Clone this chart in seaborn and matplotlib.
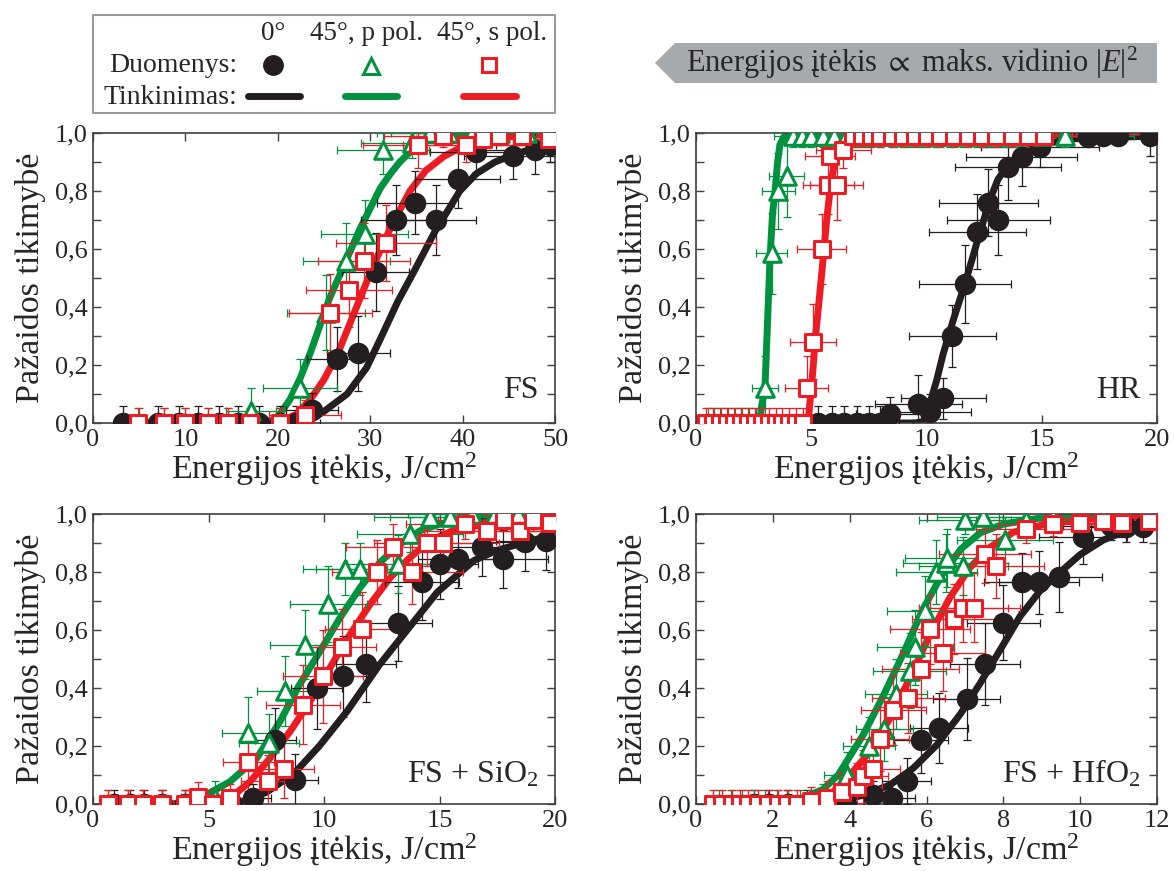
import numpy as np
import pandas as pd
import matplotlib.pyplot as plt
import matplotlib.patches as patches
from matplotlib.ticker import FuncFormatter, MultipleLocator
import seaborn as sns

#%% data (x = fluence J/cm2, y = damage probability)

# FS
fs_black_x = [3.2, 7.0, 9.3, 11.4, 13.6, 15.7, 18.0, 20.2, 22.0, 23.7, 26.4, 28.7, 30.6, 32.8, 34.9, 37.1, 39.5, 41.5, 45.5, 47.8, 49.5]
fs_black_y = [0, 0, 0, 0, 0, 0, 0, 0, 0, 0.045, 0.22, 0.24, 0.52, 0.70, 0.76, 0.70, 0.84, 0.935, 0.92, 0.94, 0.96]
fs_black_xerr = [0.4, 0.8, 1.1, 1.4, 1.6, 1.9, 2.2, 2.4, 2.6, 2.8, 3.2, 3.4, 3.6, 3.8, 4.2, 4.4, 4.6, 5.0, 5.4, 5.7, 5.9]
fs_black_yerr = [0.06, 0.06, 0.06, 0.06, 0.06, 0.06, 0.06, 0.06, 0.06, 0.06, 0.11, 0.13, 0.135, 0.12, 0.11, 0.12, 0.10, 0.07, 0.08, 0.08, 0.06]
fs_green_x = [5.0, 7.7, 10.0, 12.4, 14.6, 17.1, 20.2, 22.4, 25.2, 27.4, 29.4, 31.4, 34.5, 36.5, 38.5, 41.0, 44.0, 47.0, 49.5]
fs_green_y = [0, 0, 0, 0, 0, 0.04, 0, 0.12, 0.38, 0.56, 0.65, 0.94, 0.965, 1.0, 1.0, 1.0, 1.0, 1.0, 0.99]
fs_green_xerr = [0.8, 1.2, 1.6, 2.0, 2.3, 2.7, 3.2, 4.0, 4.2, 4.7, 4.7, 5.0, 5.5, 5.8, 6.2, 6.6, 7.0, 7.5, 7.9]
fs_green_yerr = [0.05, 0.05, 0.05, 0.05, 0.05, 0.08, 0.05, 0.10, 0.13, 0.13, 0.12, 0.08, 0.05, 0.03, 0.03, 0.03, 0.03, 0.03, 0.03]
fs_red_x = [4.9, 7.7, 10.0, 12.4, 14.6, 17.0, 20.2, 22.9, 25.7, 27.7, 29.3, 31.7, 35.2, 37.9, 40.4, 42.2, 43.9, 46.4, 49.3]
fs_red_y = [0, 0, 0, 0, 0, 0, 0, 0.028, 0.38, 0.46, 0.56, 0.62, 0.96, 0.99, 0.96, 0.98, 0.99, 0.99, 0.98]
fs_red_xerr = [0.8, 1.3, 1.7, 2.1, 2.5, 2.9, 3.4, 3.9, 4.5, 4.7, 5.0, 5.4, 6.0, 6.4, 6.9, 7.2, 7.5, 7.9, 8.4]
fs_red_yerr = [0.05, 0.05, 0.05, 0.05, 0.05, 0.05, 0.05, 0.05, 0.135, 0.13, 0.13, 0.13, 0.08, 0.04, 0.06, 0.04, 0.03, 0.03, 0.04]
# fit curves
fs_black_fx = [3, 22, 23.5, 25, 27.5, 29.6, 31.1, 33, 34.7, 37, 39.7, 41.5, 43.5, 45.5, 47.5, 50]
fs_black_fy = [0, 0, 0.01, 0.04, 0.10, 0.19, 0.29, 0.42, 0.52, 0.66, 0.80, 0.86, 0.90, 0.925, 0.945, 0.965]
fs_green_fx = [3, 18, 19.5, 20.2, 21.3, 22.4, 23.5, 24.6, 25.6, 26.7, 27.8, 28.9, 30.0, 31.1, 32.2, 33.2, 34.5, 35.7, 37.5, 40, 45, 50]
fs_green_fy = [0, 0, 0.01, 0.03, 0.08, 0.153, 0.24, 0.34, 0.43, 0.51, 0.59, 0.67, 0.74, 0.81, 0.86, 0.90, 0.94, 0.97, 0.985, 0.995, 1.0, 1.0]
fs_red_fx = [3, 19, 20.5, 22, 23.5, 25, 26.5, 28.4, 30.3, 32.3, 34.3, 36, 38, 40.4, 43, 46, 50]
fs_red_fy = [0, 0, 0.008, 0.03, 0.08, 0.15, 0.24, 0.39, 0.54, 0.68, 0.80, 0.87, 0.92, 0.96, 0.98, 0.99, 0.995]

# HR
hr_black_x = [5.3, 5.9, 6.4, 7.0, 7.5, 8.0, 8.42, 9.65, 10.15, 10.73, 11.12, 11.67, 12.2, 12.68, 13.12, 13.55, 14.13, 14.92, 17.0, 17.67, 18.32, 19.7]
hr_black_y = [0, 0, 0, 0, 0, 0, 0.03, 0.065, 0.039, 0.085, 0.30, 0.48, 0.66, 0.76, 0.70, 0.884, 0.918, 0.953, 0.987, 0.99, 0.99, 0.99]
hr_black_xerr = [0.9, 1.0, 1.1, 1.2, 1.3, 1.4, 1.5, 1.9, 1.8, 1.85, 1.9, 2.0, 2.1, 2.15, 2.25, 2.3, 2.4, 2.55, 2.9, 3.0, 3.1, 3.3]
hr_black_yerr = [0.06, 0.06, 0.06, 0.06, 0.06, 0.06, 0.06, 0.1, 0.06, 0.07, 0.106, 0.135, 0.13, 0.115, 0.12, 0.115, 0.1, 0.07, 0.03, 0.03, 0.03, 0.07]
hr_green_x = [0.5, 0.8, 1.1, 1.4, 1.7, 2.0, 2.3, 2.6, 2.85, 2.99, 3.28, 3.57, 3.93, 4.2, 4.6, 5.0, 5.5, 6.0, 6.5, 7.0, 7.5, 8.0, 8.6, 9.2, 9.8, 10.4, 11.0, 11.6, 12.2, 12.8, 13.4, 14.0, 15.0, 16.0]
hr_green_y = [0, 0, 0, 0, 0, 0, 0, 0, 0, 0.12, 0.585, 0.80, 0.85, 0.99, 0.99, 0.99, 0.99, 0.99, 0.99, 0.99, 0.99, 0.99, 0.99, 0.99, 0.99, 0.99, 0.99, 0.99, 0.99, 0.99, 0.99, 0.99, 0.99, 0.99]
hr_green_xerr = [0.1, 0.15, 0.2, 0.27, 0.32, 0.38, 0.44, 0.5, 0.54, 0.58, 0.67, 0.72, 0.75, 0.8, 0.87, 0.95, 1.05, 1.15, 1.25, 1.33, 1.43, 1.52, 1.63, 1.75, 1.86, 1.98, 2.1, 2.2, 2.3, 2.4, 2.55, 2.65, 2.85, 3.0]
hr_green_yerr = [0.05, 0.05, 0.05, 0.05, 0.05, 0.05, 0.05, 0.05, 0.05, 0.11, 0.14, 0.13, 0.14, 0.04, 0.04, 0.04, 0.04, 0.04, 0.04, 0.04, 0.04, 0.04, 0.04, 0.04, 0.04, 0.04, 0.04, 0.04, 0.04, 0.04, 0.04, 0.04, 0.04, 0.04]
hr_red_x = [0.45, 0.75, 1.05, 1.35, 1.65, 1.95, 2.25, 2.55, 2.85, 3.15, 3.45, 3.75, 4.05, 4.35, 4.65, 4.8, 5.09, 5.45, 5.74, 6.1, 5.81, 6.39, 6.8, 7.2, 7.6, 8.0, 8.5, 9.0, 9.5, 10.0, 10.6, 11.2, 11.8, 12.4, 13.0, 13.7, 14.4, 15.1]
hr_red_y = [0, 0, 0, 0, 0, 0, 0, 0, 0, 0, 0, 0, 0, 0, 0, 0.12, 0.28, 0.60, 0.82, 0.82, 0.92, 0.94, 0.99, 0.99, 0.99, 0.99, 0.99, 0.99, 0.99, 0.99, 0.99, 0.99, 0.99, 0.99, 0.99, 0.99, 0.99, 0.99]
hr_red_xerr = [0.09, 0.14, 0.2, 0.26, 0.31, 0.37, 0.43, 0.48, 0.54, 0.6, 0.66, 0.71, 0.77, 0.83, 0.88, 0.94, 1.0, 1.07, 1.1, 1.15, 1.1, 1.2, 1.3, 1.37, 1.44, 1.52, 1.6, 1.7, 1.8, 1.9, 2.0, 2.1, 2.25, 2.35, 2.45, 2.6, 2.7, 2.85]
hr_red_yerr = [0.05, 0.05, 0.05, 0.05, 0.05, 0.05, 0.05, 0.05, 0.05, 0.05, 0.05, 0.05, 0.05, 0.05, 0.05, 0.11, 0.13, 0.12, 0.1, 0.12, 0.08, 0.06, 0.04, 0.04, 0.04, 0.04, 0.04, 0.04, 0.04, 0.04, 0.04, 0.04, 0.04, 0.04, 0.04, 0.04, 0.04, 0.04]
hr_black_fx = [5, 9.5, 9.86, 10.15, 10.45, 10.73, 11.16, 11.67, 12.18, 12.75, 13.1, 13.48, 14.2, 14.92, 16.37, 20]
hr_black_fy = [0, 0, 0.005, 0.068, 0.15, 0.24, 0.355, 0.48, 0.62, 0.77, 0.84, 0.884, 0.936, 0.96, 0.98, 0.99]
hr_green_fx = [0.5, 2.75, 2.85, 2.99, 3.1, 3.21, 3.32, 3.43, 3.54, 3.64, 3.8, 4.0, 4.5, 20]
hr_green_fy = [0, 0, 0.06, 0.12, 0.34, 0.567, 0.72, 0.80, 0.9, 0.96, 0.985, 0.995, 1.0, 1.0]
hr_red_fx = [0.5, 4.8, 4.87, 4.98, 5.09, 5.16, 5.35, 5.52, 5.67, 5.81, 5.95, 6.1, 6.3, 6.5, 7, 20]
hr_red_fy = [0, 0, 0.01, 0.1, 0.2, 0.28, 0.43, 0.57, 0.7, 0.80, 0.87, 0.92, 0.96, 0.98, 0.99, 1.0]

# FS + SiO2
si_black_x = [0.9, 1.6, 2.2, 3.0, 4.0, 4.6, 5.3, 6.0, 6.94, 7.9, 8.74, 9.68, 10.84, 11.82, 13.22, 14.23, 15.0, 15.8, 16.83, 17.76, 18.7, 19.6]
si_black_y = [0, 0, 0, 0, 0, 0, 0, 0, 0.02, 0.22, 0.083, 0.40, 0.44, 0.483, 0.623, 0.764, 0.827, 0.845, 0.885, 0.845, 0.902, 0.908]
si_black_xerr = [0.1, 0.18, 0.25, 0.33, 0.44, 0.5, 0.58, 0.66, 0.76, 0.87, 1.0, 1.1, 1.2, 1.3, 1.45, 1.6, 1.65, 1.75, 1.85, 1.95, 2.05, 2.15]
si_black_yerr = [0.05, 0.05, 0.05, 0.05, 0.05, 0.05, 0.05, 0.05, 0.05, 0.11, 0.09, 0.14, 0.14, 0.13, 0.13, 0.13, 0.12, 0.1, 0.1, 0.1, 0.1, 0.1]
si_green_x = [0.66, 1.53, 2.18, 2.97, 3.98, 4.56, 5.3, 6.72, 7.63, 8.31, 9.18, 10.19, 10.91, 11.56, 13.2, 13.72, 14.6, 15.45, 16.4, 17.4, 18.4, 19.4]
si_green_y = [0, 0, 0, 0, 0, 0, 0.02, 0.245, 0.21, 0.39, 0.55, 0.69, 0.81, 0.81, 0.826, 0.93, 0.99, 0.99, 1.0, 1.0, 1.0, 1.0]
si_green_xerr = [0.11, 0.26, 0.37, 0.5, 0.68, 0.78, 0.9, 1.15, 1.3, 1.2, 1.5, 1.66, 1.8, 1.9, 2.2, 2.3, 2.45, 2.6, 2.75, 2.9, 3.1, 3.25]
si_green_yerr = [0.05, 0.05, 0.05, 0.05, 0.05, 0.05, 0.06, 0.124, 0.1, 0.12, 0.12, 0.13, 0.09, 0.09, 0.1, 0.06, 0.03, 0.03, 0.03, 0.03, 0.03, 0.03]
si_red_x = [0.66, 1.53, 2.18, 2.97, 3.98, 4.56, 5.21, 5.93, 6.72, 7.59, 8.27, 9.08, 9.97, 10.77, 11.63, 12.31, 13.0, 13.8, 14.45, 15.17, 16.1, 17.04, 17.8, 18.5, 19.06, 19.8]
si_red_y = [0, 0, 0, 0, 0, 0.025, 0, 0.02, 0.144, 0.08, 0.121, 0.343, 0.44, 0.541, 0.602, 0.80, 0.885, 0.80, 0.90, 0.90, 0.965, 0.94, 0.98, 0.94, 0.98, 0.97]
si_red_xerr = [0.1, 0.25, 0.35, 0.48, 0.64, 0.73, 0.83, 0.95, 1.1, 1.2, 1.3, 1.6, 1.73, 1.5, 1.6, 1.95, 2.05, 2.2, 2.3, 2.4, 2.55, 2.7, 2.85, 2.95, 3.05, 3.15]
si_red_yerr = [0.05, 0.05, 0.05, 0.05, 0.05, 0.05, 0.05, 0.05, 0.1, 0.09, 0.1, 0.135, 0.16, 0.13, 0.13, 0.11, 0.08, 0.11, 0.08, 0.08, 0.05, 0.06, 0.04, 0.06, 0.04, 0.04]
si_black_fx = [0.5, 5.5, 6.5, 7.5, 8.7, 9.8, 11.0, 12.4, 13.6, 14.9, 16.5, 17.5, 18.6, 20]
si_black_fy = [0, 0, 0.01, 0.04, 0.105, 0.2, 0.32, 0.48, 0.6, 0.73, 0.84, 0.875, 0.90, 0.93]
si_green_fx = [0.5, 3.5, 4.2, 4.85, 5.93, 7.09, 8.1, 8.9, 9.83, 10.7, 11.56, 12.42, 13.29, 14.15, 15.0, 16.5, 18, 20]
si_green_fy = [0, 0, 0.01, 0.03, 0.077, 0.158, 0.285, 0.406, 0.527, 0.643, 0.746, 0.833, 0.896, 0.942, 0.965, 0.985, 0.993, 0.998]
si_red_fx = [0.5, 4.0, 5.0, 5.93, 6.8, 7.66, 8.53, 9.4, 10.26, 11.13, 12.0, 12.86, 13.72, 14.59, 15.5, 17.2, 20]
si_red_fy = [0, 0, 0.008, 0.02, 0.077, 0.158, 0.25, 0.354, 0.47, 0.585, 0.689, 0.78, 0.85, 0.908, 0.94, 0.97, 0.985]

# FS + HfO2
hf_black_x = [1.5, 1.9, 2.4, 2.9, 3.4, 3.9, 4.61, 5.09, 5.48, 5.85, 6.33, 7.05, 7.52, 8.0, 8.49, 8.93, 9.46, 10.08, 10.8, 11.2, 11.64]
hf_black_y = [0, 0, 0, 0, 0, 0, 0.03, 0.022, 0.08, 0.221, 0.262, 0.362, 0.483, 0.625, 0.764, 0.764, 0.783, 0.919, 0.96, 0.955, 0.955]
hf_black_xerr = [0.18, 0.23, 0.29, 0.35, 0.41, 0.47, 0.55, 0.6, 0.65, 0.7, 0.76, 0.87, 0.91, 0.95, 1.0, 1.05, 1.1, 1.15, 1.25, 1.3, 1.35]
hf_black_yerr = [0.05, 0.05, 0.05, 0.05, 0.05, 0.05, 0.05, 0.05, 0.08, 0.115, 0.12, 0.14, 0.14, 0.13, 0.1, 0.11, 0.12, 0.09, 0.05, 0.05, 0.05]
hf_green_x = [0.6, 0.9, 1.2, 1.5, 1.8, 2.1, 2.4, 2.7, 3.0, 3.3, 3.92, 4.5, 4.9, 5.2, 5.57, 5.7, 5.96, 6.26, 6.5, 6.53, 6.96, 7.0, 7.48, 8.04, 8.6, 9.3]
hf_green_y = [0, 0, 0, 0, 0, 0, 0, 0, 0, 0.02, 0.10, 0.20, 0.26, 0.38, 0.46, 0.54, 0.665, 0.80, 0.83, 0.85, 0.82, 0.98, 0.99, 0.91, 0.98, 0.99]
hf_green_xerr = [0.09, 0.14, 0.18, 0.23, 0.27, 0.32, 0.36, 0.4, 0.45, 0.5, 0.6, 0.68, 0.74, 0.8, 0.95, 1.0, 1.0, 1.05, 1.1, 1.1, 1.15, 1.2, 1.2, 1.25, 1.3, 1.4]
hf_green_yerr = [0.05, 0.05, 0.05, 0.05, 0.05, 0.05, 0.05, 0.05, 0.05, 0.05, 0.08, 0.1, 0.11, 0.12, 0.13, 0.13, 0.12, 0.11, 0.1, 0.1, 0.1, 0.05, 0.03, 0.08, 0.04, 0.03]
hf_red_x = [0.45, 0.67, 0.93, 1.15, 1.36, 1.62, 1.88, 2.14, 2.36, 2.62, 3.0, 3.4, 3.8, 4.2, 4.36, 4.62, 4.79, 5.14, 5.53, 5.85, 6.09, 6.42, 6.72, 6.96, 7.24, 7.52, 7.8, 8.6, 9.3, 10.0, 10.6, 11.1, 11.8]
hf_red_y = [0, 0, 0, 0, 0, 0, 0, 0, 0, 0, 0.01, 0.02, 0.04, 0.06, 0.095, 0.12, 0.225, 0.325, 0.366, 0.464, 0.602, 0.521, 0.637, 0.677, 0.677, 0.862, 0.821, 0.95, 0.965, 0.97, 0.975, 0.97, 0.975]
hf_red_xerr = [0.07, 0.1, 0.14, 0.17, 0.2, 0.24, 0.28, 0.32, 0.35, 0.39, 0.45, 0.5, 0.57, 0.63, 0.65, 0.7, 0.75, 0.85, 0.95, 1.0, 1.05, 1.1, 1.1, 1.15, 1.2, 1.2, 1.25, 1.3, 1.4, 1.5, 1.6, 1.65, 1.75]
hf_red_yerr = [0.05, 0.05, 0.05, 0.05, 0.05, 0.05, 0.05, 0.05, 0.05, 0.05, 0.05, 0.06, 0.07, 0.08, 0.09, 0.1, 0.11, 0.12, 0.12, 0.13, 0.12, 0.13, 0.12, 0.12, 0.12, 0.1, 0.11, 0.05, 0.04, 0.04, 0.03, 0.04, 0.03]
hf_black_fx = [1, 3.0, 3.5, 4.36, 5.05, 5.66, 6.27, 6.88, 7.39, 7.91, 8.43, 8.95, 9.4, 10.0, 10.6, 11.1, 12]
hf_black_fy = [0, 0.004, 0.008, 0.03, 0.066, 0.124, 0.204, 0.31, 0.415, 0.53, 0.646, 0.734, 0.79, 0.86, 0.91, 0.937, 0.97]
hf_green_fx = [0.5, 2.5, 3.3, 3.7, 4.36, 4.9, 5.4, 5.9, 6.4, 6.9, 7.4, 8.0, 8.9, 10, 12]
hf_green_fy = [0, 0.005, 0.05, 0.10, 0.24, 0.38, 0.52, 0.67, 0.79, 0.88, 0.935, 0.965, 0.985, 0.995, 1.0]
hf_red_fx = [0.5, 2.0, 3.0, 3.49, 4.01, 4.53, 5.05, 5.57, 6.09, 6.61, 7.13, 7.65, 8.26, 9.13, 10.26, 12]
hf_red_fy = [0, 0.003, 0.015, 0.031, 0.1, 0.181, 0.296, 0.435, 0.585, 0.712, 0.815, 0.885, 0.937, 0.966, 0.983, 0.995]

#%% style
sns.set_theme(style='ticks')
plt.rcParams['font.family'] = ['Liberation Serif', 'DejaVu Serif']
plt.rcParams['mathtext.fontset'] = 'custom'
plt.rcParams['mathtext.rm'] = 'Liberation Serif'
plt.rcParams['mathtext.it'] = 'Liberation Serif:italic'
plt.rcParams['mathtext.default'] = 'regular'

black_color = '#231f20'
green_color = '#00923f'
red_color = '#ed1c24'
spine_color = '#404040'
label_size = 24.5
tick_size = 19

W, H = 1174, 871
fig = plt.figure(figsize=(W / 100, H / 100), dpi=100)


def add_series(ax, x, y, xerr, yerr, color, marker, size, hollow):
    ax.errorbar(x, y, xerr=xerr, yerr=yerr, fmt='none', ecolor=color,
                elinewidth=0.9, capsize=3, capthick=0.9, zorder=3)
    if hollow:
        sns.scatterplot(x=x, y=y, ax=ax, marker=marker, s=size, color='white',
                        edgecolor=color, linewidth=2.2, zorder=4, legend=False)
    else:
        sns.scatterplot(x=x, y=y, ax=ax, marker=marker, s=size, color=color,
                        edgecolor=color, linewidth=0, zorder=4, legend=False)


def setup_panel(rect, xmax, xstep, tag, tag_y):
    ax = fig.add_axes(rect)
    ax.set_xlim(0, xmax)
    ax.set_ylim(0, 1)
    ax.xaxis.set_major_locator(MultipleLocator(xstep))
    ax.yaxis.set_major_locator(MultipleLocator(0.2))
    ax.yaxis.set_minor_locator(MultipleLocator(0.1))
    ax.yaxis.set_major_formatter(FuncFormatter(lambda v, p: f'{v:.1f}'.replace('.', ',')))
    ax.xaxis.set_major_formatter(FuncFormatter(lambda v, p: f'{v:g}'))
    ax.tick_params(which='both', direction='in', top=True, right=True,
                   length=6, width=1, color=spine_color, labelsize=tick_size, pad=4)
    for s in ax.spines.values():
        s.set_color(spine_color)
        s.set_linewidth(1.2)
    ax.set_xlabel('Energijos įtėkis, J/cm$^2$', fontsize=label_size, labelpad=0)
    ax.set_ylabel('Pažaidos tikimybė', fontsize=label_size, labelpad=6)
    ax.text(0.964, tag_y, tag, transform=ax.transAxes, ha='right', va='baseline',
            fontsize=23, zorder=6)
    return ax


def fill_panel(ax, fits, data):
    # fit curves first, then data (black, green, red)
    for fx, fy, c in fits:
        sns.lineplot(x=fx, y=fy, ax=ax, color=c, linewidth=5, estimator=None,
                     sort=False, zorder=2)
    (bx, by, bxe, bye), (gx, gy, gxe, gye), (rx, ry, rxe, rye) = data
    add_series(ax, bx, by, bxe, bye, black_color, 'o', 240, False)
    add_series(ax, gx, gy, gxe, gye, green_color, '^', 160, True)
    add_series(ax, rx, ry, rxe, rye, red_color, 's', 120, True)


left_l, left_r = 93 / W, 696 / W
w_l, w_r = 462 / W, 461 / W
b_top, b_bot = 1 - 423 / H, 1 - 804 / H
h = 290 / H

ax_fs = setup_panel([left_l, b_top, w_l, h], 50, 10, 'FS', 0.086)
fill_panel(ax_fs,
           [(fs_black_fx, fs_black_fy, black_color), (fs_green_fx, fs_green_fy, green_color),
            (fs_red_fx, fs_red_fy, red_color)],
           [(fs_black_x, fs_black_y, fs_black_xerr, fs_black_yerr),
            (fs_green_x, fs_green_y, fs_green_xerr, fs_green_yerr),
            (fs_red_x, fs_red_y, fs_red_xerr, fs_red_yerr)])

ax_hr = setup_panel([left_r, b_top, w_r, h], 20, 5, 'HR', 0.086)
fill_panel(ax_hr,
           [(hr_black_fx, hr_black_fy, black_color), (hr_green_fx, hr_green_fy, green_color),
            (hr_red_fx, hr_red_fy, red_color)],
           [(hr_black_x, hr_black_y, hr_black_xerr, hr_black_yerr),
            (hr_green_x, hr_green_y, hr_green_xerr, hr_green_yerr),
            (hr_red_x, hr_red_y, hr_red_xerr, hr_red_yerr)])

ax_si = setup_panel([left_l, b_bot, w_l, h], 20, 5, 'FS + SiO$_2$', 0.073)
fill_panel(ax_si,
           [(si_black_fx, si_black_fy, black_color), (si_green_fx, si_green_fy, green_color),
            (si_red_fx, si_red_fy, red_color)],
           [(si_black_x, si_black_y, si_black_xerr, si_black_yerr),
            (si_green_x, si_green_y, si_green_xerr, si_green_yerr),
            (si_red_x, si_red_y, si_red_xerr, si_red_yerr)])

ax_hf = setup_panel([left_r, b_bot, w_r, h], 12, 2, 'FS + HfO$_2$', 0.073)
fill_panel(ax_hf,
           [(hf_black_fx, hf_black_fy, black_color), (hf_green_fx, hf_green_fy, green_color),
            (hf_red_fx, hf_red_fy, red_color)],
           [(hf_black_x, hf_black_y, hf_black_xerr, hf_black_yerr),
            (hf_green_x, hf_green_y, hf_green_xerr, hf_green_yerr),
            (hf_red_x, hf_red_y, hf_red_xerr, hf_red_yerr)])

#%% legend box and arrow banner, drawn in pixel coordinates on an overlay
ov = fig.add_axes([0, 0, 1, 1])
ov.set_xlim(0, W)
ov.set_ylim(H, 0)
ov.axis('off')

ov.add_patch(patches.Rectangle((93, 15), 462, 98, fill=False, edgecolor='#9a9a9a', linewidth=1.5))
leg_size = 20
for xc, txt in [(273, '0°'), (367, '45°, p pol.'), (492, '45°, s pol.')]:
    ov.text(xc, 33, txt, ha='center', va='center', fontsize=19.5)
ov.text(237, 65, 'Duomenys:', ha='right', va='center', fontsize=leg_size)
ov.text(237, 97, 'Tinkinimas:', ha='right', va='center', fontsize=leg_size)
ov.plot([273], [65], 'o', ms=14, color=black_color, mec=black_color)
ov.plot([371], [66], '^', ms=12, color='white', mec=green_color, mew=2.2)
ov.plot([489], [65], 's', ms=10, color='white', mec=red_color, mew=2.2)
ov.plot([248, 300], [96, 96], color=black_color, lw=5, solid_capstyle='round')
ov.plot([345, 397], [96, 96], color=green_color, lw=5, solid_capstyle='round')
ov.plot([463, 516], [96, 96], color=red_color, lw=5, solid_capstyle='round')

ov.add_patch(patches.Polygon([(675, 43), (1157, 43), (1157, 83), (675, 83), (655, 63)],
                             closed=True, facecolor='#a7a9ac', edgecolor='none'))
ov.text(912, 63, 'Energijos įtėkis $\\propto$ maks. vidinio $|\\mathit{E}|^2$',
        ha='center', va='center', fontsize=22)

plt.savefig('out.png', dpi=100)
